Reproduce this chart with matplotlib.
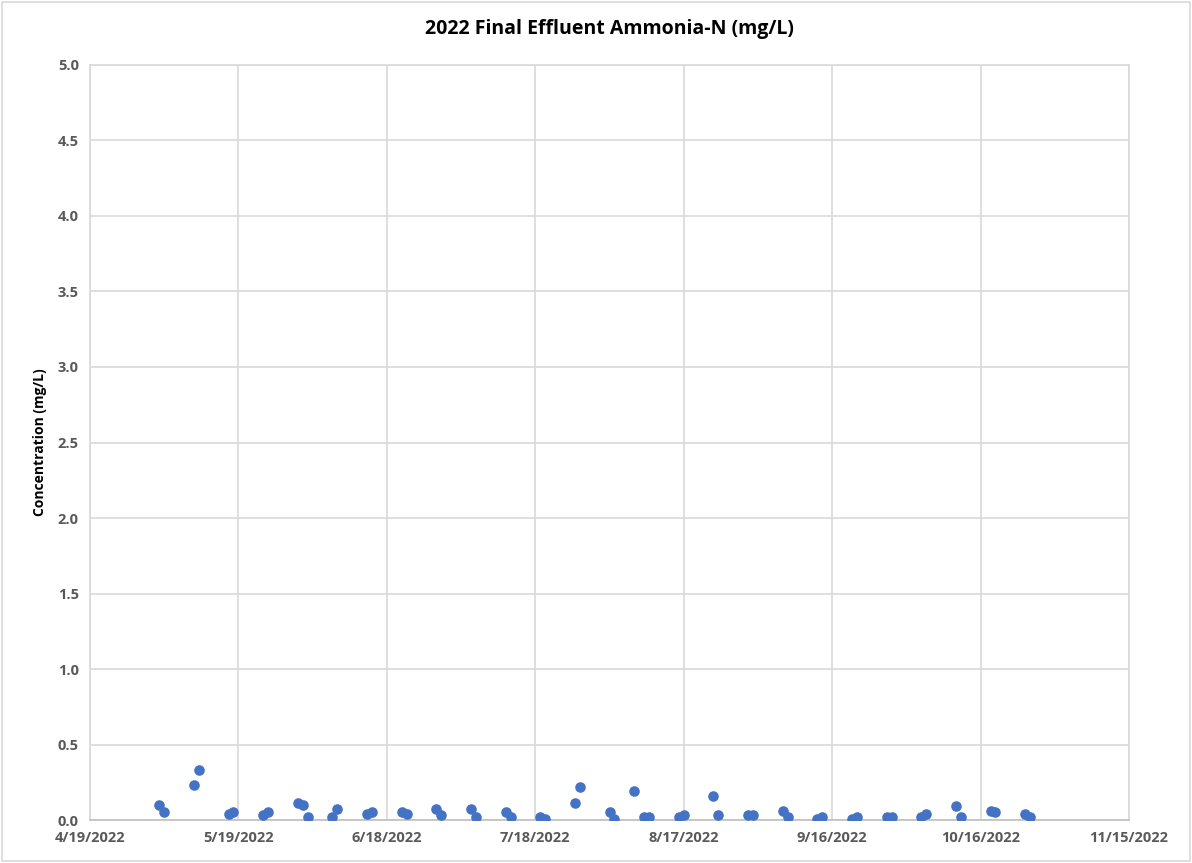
import datetime as dt
import matplotlib
matplotlib.use('Agg')
import matplotlib.pyplot as plt
from matplotlib.patches import Rectangle

# Sample dates and ammonia-N results (mg/L)
sample_dates = [
    '2022-05-03', '2022-05-04', '2022-05-10', '2022-05-11', '2022-05-17', '2022-05-18',
    '2022-05-24', '2022-05-25', '2022-05-31', '2022-06-01', '2022-06-02', '2022-06-07',
    '2022-06-08', '2022-06-14', '2022-06-15', '2022-06-21', '2022-06-22', '2022-06-28',
    '2022-06-29', '2022-07-05', '2022-07-06', '2022-07-12', '2022-07-13', '2022-07-19',
    '2022-07-20', '2022-07-26', '2022-07-27', '2022-08-02', '2022-08-03', '2022-08-07',
    '2022-08-09', '2022-08-10', '2022-08-16', '2022-08-17', '2022-08-23', '2022-08-24',
    '2022-08-30', '2022-08-31', '2022-09-06', '2022-09-07', '2022-09-13', '2022-09-14',
    '2022-09-20', '2022-09-21', '2022-09-27', '2022-09-28', '2022-10-04', '2022-10-05',
    '2022-10-11', '2022-10-12', '2022-10-18', '2022-10-19', '2022-10-25', '2022-10-26',
]
ammonia = [
    0.10, 0.05, 0.23, 0.33, 0.04, 0.05,
    0.03, 0.05, 0.11, 0.10, 0.02, 0.02,
    0.07, 0.04, 0.05, 0.05, 0.04, 0.07,
    0.03, 0.07, 0.02, 0.05, 0.02, 0.02,
    0.01, 0.11, 0.22, 0.05, 0.01, 0.19,
    0.02, 0.02, 0.02, 0.03, 0.16, 0.03,
    0.03, 0.03, 0.06, 0.02, 0.01, 0.02,
    0.01, 0.02, 0.02, 0.02, 0.02, 0.04,
    0.09, 0.02, 0.06, 0.05, 0.04, 0.02,
]

x_start = dt.date(2022, 4, 19)
x_end = dt.date(2022, 11, 15)
x_ticks = [x_start + dt.timedelta(days=30 * i) for i in range(8)]
y_ticks = [0.0, 0.5, 1.0, 1.5, 2.0, 2.5, 3.0, 3.5, 4.0, 4.5, 5.0]

dates = [dt.datetime.strptime(d, '%Y-%m-%d').date() for d in sample_dates]

plt.rcParams['font.family'] = ['Open Sans', 'DejaVu Sans']

fig = plt.figure(figsize=(11.92, 8.63), dpi=100)
ax = fig.add_axes([0.0755, 0.0498, 0.8717, 0.8749])

ax.scatter(dates, ammonia, s=58, color='#4472C4', zorder=3, linewidths=0)

ax.set_xlim(x_start, x_end)
ax.set_ylim(0, 5.0)
ax.set_xticks(x_ticks)
ax.set_xticklabels([f'{d.month}/{d.day}/{d.year}' for d in x_ticks])
ax.set_yticks(y_ticks)
ax.set_yticklabels([f'{v:.1f}' for v in y_ticks])

ax.grid(True, color='#d9d9d9', linewidth=1.2)
ax.set_axisbelow(True)
for s in ax.spines.values():
    s.set_color('#d9d9d9')
    s.set_linewidth(1.2)
ax.spines['bottom'].set_color('#bfbfbf')
ax.tick_params(length=0, labelsize=10.5, labelcolor='#595959', pad=8)
for lbl in ax.get_xticklabels() + ax.get_yticklabels():
    lbl.set_fontweight('bold')

ax.set_title('2022 Final Effluent Ammonia-N (mg/L)', fontsize=14, fontweight='bold', pad=22)
ax.set_ylabel('Concentration (mg/L)', fontsize=10, fontweight='bold', labelpad=8)

# light frame around the whole chart area
fig.patches.append(Rectangle((0.002, 0.002), 0.996, 0.996, transform=fig.transFigure,
                             fill=False, edgecolor='#d9d9d9', linewidth=1.2))

fig.savefig('out.png', dpi=100)
